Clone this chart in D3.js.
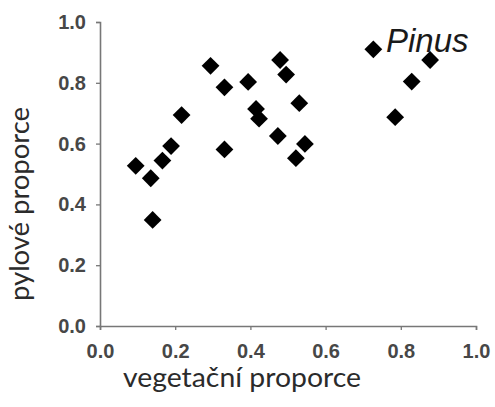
<!DOCTYPE html>
<html>
<head>
<meta charset="utf-8">
<script src="https://cdn.jsdelivr.net/npm/d3@7/dist/d3.min.js"></script>
<style>
  html, body { margin: 0; padding: 0; background: #fff; }
  svg { display: block; }
</style>
</head>
<body>
<svg id="chart" width="495" height="407"></svg>
<script>
// Vegetation proportion (x) versus pollen proportion (y) for Pinus
const vegetation = [0.095, 0.135, 0.140, 0.166, 0.189, 0.217, 0.294, 0.331, 0.331, 0.394, 0.415,
                    0.423, 0.473, 0.479, 0.495, 0.530, 0.545, 0.521, 0.727, 0.878, 0.829, 0.785];
const pollen     = [0.527, 0.486, 0.349, 0.544, 0.592, 0.694, 0.856, 0.785, 0.581, 0.803, 0.714,
                    0.682, 0.625, 0.875, 0.827, 0.733, 0.599, 0.552, 0.910, 0.875, 0.804, 0.687];
const xTicks = [0, 0.2, 0.4, 0.6, 0.8, 1.0];
const yTicks = [0, 0.2, 0.4, 0.6, 0.8, 1.0];
const xTitle = "vegetační proporce";
const yTitle = "pylové proporce";
const taxon = "Pinus";

const svg = d3.select("#chart");
const x = d3.scaleLinear().domain([0, 1]).range([100, 476]);
const y = d3.scaleLinear().domain([0, 1]).range([326, 22]);

const axisColor = "#777";
const tickFont = "'Liberation Sans', Arial, sans-serif";

// x axis
const gx = svg.append("g").attr("transform", `translate(0,${y(0)})`)
  .call(d3.axisBottom(x).tickValues(xTicks).tickFormat(d3.format(".1f")).tickSize(4).tickPadding(14));
// y axis
const gy = svg.append("g").attr("transform", `translate(${x(0)},0)`)
  .call(d3.axisLeft(y).tickValues(yTicks).tickFormat(d3.format(".1f")).tickSize(4).tickPadding(10));

[gx, gy].forEach(g => {
  g.select(".domain").attr("stroke", axisColor).attr("stroke-width", 1.6);
  g.selectAll(".tick line").attr("stroke", axisColor).attr("stroke-width", 1.3);
  g.selectAll(".tick text")
    .attr("font-family", tickFont)
    .attr("font-weight", "bold")
    .attr("font-size", 20)
    .attr("fill", "#474747");
});

// data points as diamonds
const diamond = d3.symbol().type(d3.symbolSquare).size(158);
svg.append("g").selectAll("path")
  .data(vegetation.map((v, i) => [v, pollen[i]]))
  .join("path")
  .attr("d", diamond)
  .attr("transform", d => `translate(${x(d[0])},${y(d[1])}) rotate(45)`)
  .attr("fill", "#000");

// taxon label
svg.append("text")
  .attr("x", 386).attr("y", 52)
  .attr("font-family", tickFont)
  .attr("font-style", "italic")
  .attr("font-size", 33)
  .attr("fill", "#1a1a1a")
  .text(taxon);

// axis titles
const titleFont = "Lato, 'Open Sans', sans-serif";
svg.append("text")
  .attr("x", 242).attr("y", 387)
  .attr("text-anchor", "middle")
  .attr("font-family", titleFont)
  .attr("font-size", 26)
  .attr("textLength", 238)
  .attr("lengthAdjust", "spacingAndGlyphs")
  .attr("fill", "#2b2b2b")
  .text(xTitle);

svg.append("text")
  .attr("transform", "translate(29,204) rotate(-90)")
  .attr("text-anchor", "middle")
  .attr("font-family", titleFont)
  .attr("font-size", 26)
  .attr("textLength", 194)
  .attr("lengthAdjust", "spacingAndGlyphs")
  .attr("fill", "#2b2b2b")
  .text(yTitle);
</script>
</body>
</html>
